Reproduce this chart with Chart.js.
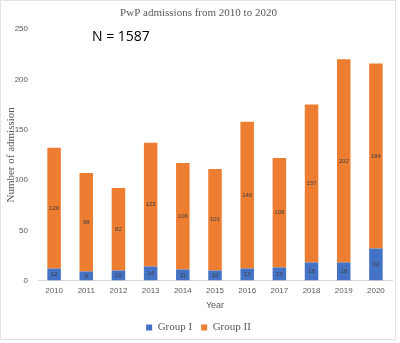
<!DOCTYPE html>
<html>
<head>
<meta charset="utf-8">
<script src="https://cdn.jsdelivr.net/npm/chart.js@4"></script>
<style>
  html, body { margin: 0; padding: 0; background: #fff; }
  #wrap { width: 400px; height: 343px; position: relative; }
</style>
</head>
<body>
<div id="wrap"><canvas id="admissionChart" width="400" height="343"></canvas></div>
<script>
// data
const years = ['2010', '2011', '2012', '2013', '2014', '2015', '2016', '2017', '2018', '2019', '2020'];
const groupOne = [12, 9, 10, 14, 11, 10, 12, 13, 18, 18, 32];
const groupTwo = [120, 98, 82, 123, 106, 101, 146, 109, 157, 202, 184];
const yTicks = [0, 50, 100, 150, 200, 250];

const blue = '#4472C4';
const orange = '#ED7D31';

// labels inside each segment + the "N =" note + faint frame
const extras = {
  id: 'extras',
  afterDatasetsDraw(chart) {
    const c = chart.ctx;
    c.save();
    c.font = '6px "Liberation Sans", sans-serif';
    c.fillStyle = '#404040';
    c.textAlign = 'center';
    c.textBaseline = 'middle';
    chart.data.datasets.forEach((ds, i) => {
      chart.getDatasetMeta(i).data.forEach((bar, j) => {
        const mid = (bar.y + bar.base) / 2;
        c.fillText(ds.data[j], bar.x, mid);
      });
    });
    c.restore();
  },
  afterDraw(chart) {
    const c = chart.ctx;
    c.save();
    const total = groupOne.concat(groupTwo).reduce((a, b) => a + b, 0);
    c.font = '14px "Open Sans", sans-serif';
    c.fillStyle = '#000';
    c.textBaseline = 'middle';
    c.fillText('N = ' + total, 92, 37);
    c.strokeStyle = '#e4e4e4';
    c.lineWidth = 1;
    c.strokeRect(0.5, 0.5, 395, 339);
    c.restore();
  }
};

new Chart(document.getElementById('admissionChart').getContext('2d'), {
  type: 'bar',
  data: {
    labels: years,
    datasets: [
      { label: 'Group I', data: groupOne, backgroundColor: blue, categoryPercentage: 0.84, barPercentage: 0.5 },
      { label: 'Group II', data: groupTwo, backgroundColor: orange, categoryPercentage: 0.84, barPercentage: 0.5 }
    ]
  },
  options: {
    responsive: false,
    animation: false,
    layout: { padding: { left: 5, right: 8, top: 2, bottom: 0 } },
    plugins: {
      title: {
        display: true,
        text: 'PwP admissions from 2010 to 2020',
        color: '#595959',
        font: { family: '"Liberation Serif", serif', size: 11, weight: 'normal' },
        padding: { top: 5, bottom: 9 }
      },
      legend: {
        position: 'bottom',
        labels: {
          color: '#595959',
          font: { family: '"Liberation Serif", serif', size: 11 },
          boxWidth: 6,
          boxHeight: 6,
          padding: 9
        }
      },
      tooltip: { enabled: false }
    },
    scales: {
      x: {
        stacked: true,
        grid: { display: false, drawTicks: false },
        border: { color: '#d9d9d9' },
        ticks: { color: '#595959', font: { family: '"Liberation Sans", sans-serif', size: 8 }, padding: 5, maxRotation: 0 },
        title: { display: true, text: 'Year', color: '#595959', font: { family: '"Liberation Sans", sans-serif', size: 9 }, padding: { top: 0, bottom: 2 } }
      },
      y: {
        stacked: true,
        min: 0,
        max: 250,
        afterBuildTicks(axis) { axis.ticks = yTicks.map(v => ({ value: v })); },
        afterFit(axis) { axis.width = 33; },
        grid: { display: false, drawTicks: false },
        border: { display: false },
        ticks: { color: '#595959', font: { family: '"Liberation Sans", sans-serif', size: 8 }, padding: 10 },
        title: { display: true, text: 'Number of admission', color: '#595959', font: { family: '"Liberation Serif", serif', size: 11 }, padding: 0 }
      }
    }
  },
  plugins: [extras]
});
</script>
</body>
</html>
